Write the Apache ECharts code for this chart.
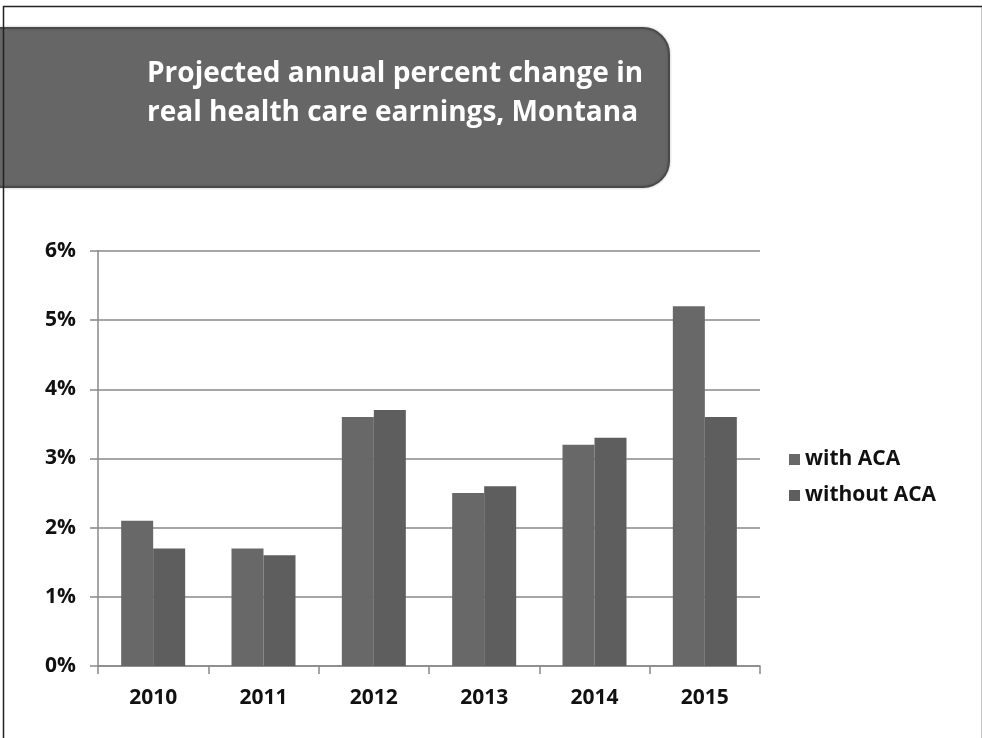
<!DOCTYPE html>
<html>
<head>
<meta charset="utf-8">
<script src="https://cdn.jsdelivr.net/npm/echarts@6/dist/echarts.min.js"></script>
<style>html,body{margin:0;padding:0;background:#fff}#c{width:982px;height:738px}</style>
</head>
<body>
<div id="c"></div>
<script>
var categories = ['2010', '2011', '2012', '2013', '2014', '2015'];
var withACA = [2.1, 1.7, 3.6, 2.5, 3.2, 5.2];
var withoutACA = [1.7, 1.6, 3.7, 2.6, 3.3, 3.6];
var seriesNames = ['with ACA', 'without ACA'];
var titleLines = ['Projected annual percent change in', 'real health care earnings, Montana'];

var FONT = '"Open Sans"';
var chart = echarts.init(document.getElementById('c'));
chart.setOption({
  backgroundColor: '#fff',
  animation: false,
  grid: { left: 98, right: 222, top: 251, bottom: 72, containLabel: false },
  legend: {
    orient: 'vertical', left: 784, top: 444, itemWidth: 11, itemHeight: 11, itemGap: 15,
    icon: 'rect',
    textStyle: { fontFamily: FONT, fontWeight: 'bold', fontSize: 21, color: '#111' },
    data: seriesNames
  },
  xAxis: {
    type: 'category', data: categories,
    axisLine: { lineStyle: { color: '#888', width: 1.5 } },
    axisTick: { show: true, length: 8, lineStyle: { color: '#888', width: 1.5 } },
    axisLabel: { fontFamily: FONT, fontWeight: 'bold', fontSize: 21, color: '#111', margin: 22 }
  },
  yAxis: {
    type: 'value', min: 0, max: 6, interval: 1,
    axisLine: { show: true, lineStyle: { color: '#888', width: 1.5 } },
    axisTick: { show: true, length: 8, lineStyle: { color: '#888', width: 1.5 } },
    splitLine: { lineStyle: { color: '#888', width: 1.5 } },
    axisLabel: { fontFamily: FONT, fontWeight: 'bold', fontSize: 21, color: '#111', margin: 22,
      formatter: function (v) { return v + '%'; } }
  },
  series: [
    { name: seriesNames[0], type: 'bar', data: withACA, barGap: '0%', barCategoryGap: '42%',
      itemStyle: { color: '#686868' } },
    { name: seriesNames[1], type: 'bar', data: withoutACA,
      itemStyle: { color: '#5e5e5e' } }
  ],
  graphic: [
    { type: 'rect', left: 1, top: 4, shape: { width: 979, height: 740 }, silent: true,
      style: { fill: 'none', stroke: '#222', lineWidth: 1.5 }, z: 100 },
    { type: 'rect', shape: { x: -4, y: 28, width: 673, height: 159, r: [0, 26, 26, 0] },
      style: { fill: '#666', stroke: '#4a4a4a', lineWidth: 2, shadowBlur: 3, shadowColor: 'rgba(0,0,0,0.2)' }, z: 10 },
    { type: 'text', x: 147, y: 55, z: 11,
      style: { text: titleLines.join('\n'), fill: '#fff', fontFamily: FONT, fontWeight: 'bold',
        fontSize: 28, lineHeight: 39 } }
  ]
});
</script>
</body>
</html>
